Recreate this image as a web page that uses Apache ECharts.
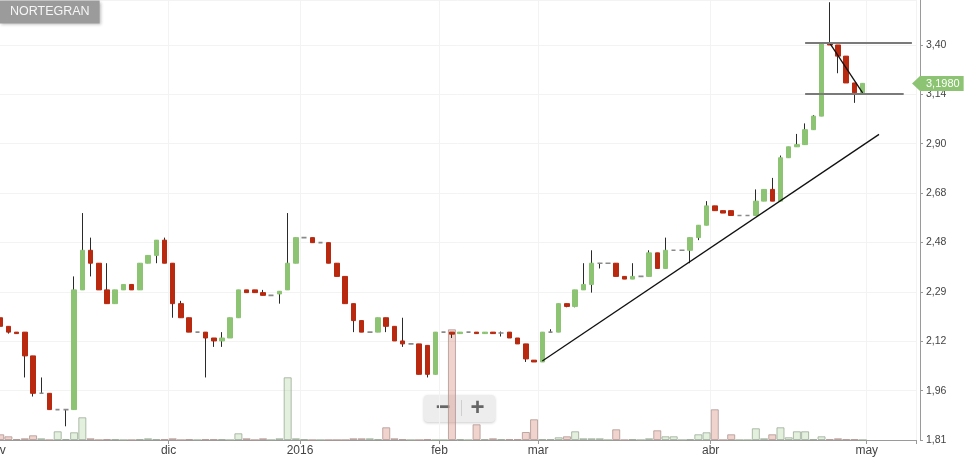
<!DOCTYPE html>
<html><head><meta charset="utf-8">
<script src="https://cdn.jsdelivr.net/npm/echarts@6/dist/echarts.min.js"></script>
<style>html,body{margin:0;padding:0;background:#fff}#c{width:966px;height:461px}</style>
</head><body><div id="c"></div>
<script>
// ---- data ----
const opens = [2.20,2.17,2.15,2.15,2.07,1.95,1.95,1.90,1.90,1.90,
 2.30,2.45,2.40,2.30,2.25,2.30,2.32,2.30,2.40,2.43,
 2.49,2.40,2.25,2.20,2.15,2.15,2.13,2.12,2.13,2.20,
 2.30,2.30,2.29,2.28,2.285,2.30,2.40,2.50,2.50,2.48,
 2.48,2.40,2.35,2.25,2.19,2.15,2.15,2.20,2.17,2.12,
 2.11,2.11,2.105,2.01,2.15,2.15,2.145,2.15,2.15,2.145,
 2.15,2.147,2.15,2.13,2.11,2.056,2.05,2.15,2.15,2.25,
 2.24,2.30,2.32,2.40,2.40,2.40,2.35,2.34,2.35,2.35,
 2.44,2.38,2.45,2.45,2.45,2.50,2.55,2.63,2.61,2.61,
 2.59,2.59,2.59,2.65,2.70,2.65,2.84,2.89,2.90,2.97,
 3.035,3.41,3.40,3.34,3.20,3.15];
const closes = [2.17,2.15,2.145,2.07,1.95,1.95,1.90,1.90,1.90,2.30,
 2.45,2.40,2.30,2.25,2.30,2.32,2.30,2.40,2.43,2.49,
 2.40,2.25,2.20,2.15,2.15,2.13,2.12,2.13,2.20,2.30,
 2.29,2.29,2.28,2.28,2.295,2.40,2.50,2.50,2.48,2.48,
 2.40,2.35,2.25,2.19,2.15,2.15,2.20,2.17,2.12,2.11,
 2.11,2.01,2.01,2.15,2.15,2.143,2.15,2.15,2.145,2.15,
 2.145,2.147,2.13,2.11,2.06,2.05,2.15,2.15,2.25,2.24,
 2.30,2.32,2.40,2.40,2.40,2.35,2.34,2.35,2.35,2.44,
 2.38,2.45,2.45,2.45,2.50,2.55,2.63,2.61,2.60,2.59,
 2.59,2.59,2.65,2.70,2.65,2.84,2.89,2.90,2.97,3.035,
 3.41,3.40,3.34,3.20,3.15,3.198];
const lows = [2.14,2.145,2.145,2.00,1.94,1.95,1.90,1.90,1.85,1.90,
 2.30,2.35,2.30,2.25,2.25,2.30,2.30,2.30,2.40,2.40,
 2.40,2.20,2.20,2.15,2.15,2.00,2.10,2.10,2.13,2.20,
 2.29,2.29,2.28,2.28,2.25,2.30,2.40,2.50,2.48,2.48,
 2.40,2.35,2.25,2.15,2.15,2.15,2.15,2.15,2.12,2.10,
 2.11,2.01,2.00,2.01,2.15,2.13,2.145,2.15,2.145,2.145,
 2.145,2.135,2.13,2.11,2.05,2.05,2.05,2.15,2.15,2.237,
 2.237,2.30,2.29,2.38,2.40,2.35,2.34,2.34,2.35,2.35,
 2.38,2.38,2.45,2.45,2.40,2.49,2.55,2.61,2.60,2.59,
 2.59,2.59,2.59,2.65,2.65,2.65,2.84,2.89,2.90,2.97,
 3.035,3.40,3.25,3.20,3.10,3.15];
const highs = [2.21,2.17,2.15,2.15,2.07,2.00,1.95,1.90,1.90,2.35,
 2.60,2.50,2.40,2.40,2.30,2.32,2.32,2.40,2.43,2.49,
 2.50,2.40,2.26,2.20,2.15,2.15,2.13,2.15,2.20,2.30,
 2.30,2.30,2.30,2.28,2.295,2.60,2.50,2.50,2.50,2.48,
 2.48,2.40,2.35,2.25,2.19,2.15,2.20,2.20,2.17,2.20,
 2.11,2.11,2.105,2.15,2.15,2.15,2.15,2.15,2.15,2.15,
 2.15,2.152,2.15,2.13,2.11,2.056,2.15,2.16,2.25,2.25,
 2.30,2.40,2.45,2.40,2.40,2.40,2.35,2.40,2.35,2.45,
 2.44,2.50,2.45,2.45,2.50,2.55,2.65,2.63,2.61,2.61,
 2.59,2.59,2.70,2.70,2.75,2.85,2.89,2.95,3.00,3.04,
 3.41,3.64,3.40,3.34,3.20,3.198];
const volumes = [570,370,100,170,470,170,0,870,100,770,
 2270,170,0,70,70,0,0,70,170,70,
 70,170,0,70,0,70,70,70,0,670,
 170,0,170,0,170,6270,170,70,0,0,
 0,0,0,170,170,170,70,1270,170,70,
 0,0,70,0,0,11070,70,0,1570,70,
 170,70,70,70,800,2070,70,70,270,370,
 870,170,170,170,0,1070,0,70,0,170,
 970,370,370,0,70,570,770,3070,0,570,
 0,0,1170,170,570,1270,270,870,870,70,
 370,70,170,70,70,0];
const monthLabels = ['nov','dic','2016','feb','mar','abr','may'];
const monthStarts = [0,21,37,54,66,87,106];
const yTickLabels = ['1,81','1,96','2,12','2,29','2,48','2,68','2,90','3,14','3,40'];
const totalSlots = 112;
const priceTop = 3.653;
const trendLines = [
  {from:[66, 2.053], to:[107, 2.948]},
  {from:[101, 3.41], to:[105, 3.15]}
];
const levelLines = [
  {from:98, to:111, price:3.41},
  {from:98, to:110, price:3.145}
];

// ---- log-price scale (ticks evenly spaced in log space) ----
const BASE = 1.81;
const STEP = Math.log(3.40 / BASE) / 8;
const t = p => Math.log(p / BASE) / STEP;

const GREEN = '#8cc474', RED = '#b8290f', DOJI = '#8a8a8a', WICK = '#2a2a2a';
const isMonth = i => monthStarts.indexOf(i) >= 0;

const cats = Array.from({length: totalSlots}, (_, i) => String(i));
const wickData = opens.map((o, i) => [t(o), t(closes[i]), t(lows[i]), t(highs[i])]);
const bodyData = opens.map((o, i) => {
  const c = closes[i];
  const v = [t(o), t(c), t(Math.min(o, c)), t(Math.max(o, c))];
  if (o === c) return {value: v, itemStyle: {borderColor: DOJI, borderColor0: DOJI, borderWidth: 1.6}};
  return v;
});
const volData = volumes.map((v, i) => ({
  value: v,
  itemStyle: closes[i] >= opens[i]
    ? {color: 'rgba(147,195,123,0.25)', borderColor: 'rgba(150,165,145,0.75)'}
    : {color: 'rgba(212,121,106,0.33)', borderColor: 'rgba(175,150,145,0.8)'}
}));
const lastClose = closes[closes.length - 1];

const markLines = [];
trendLines.forEach(l => markLines.push([
  {coord: [l.from[0], t(l.from[1])], lineStyle: {color: '#111', width: 1.3, type: 'solid'}},
  {coord: [l.to[0], t(l.to[1])]}
]));
levelLines.forEach(l => markLines.push([
  {coord: [l.from, t(l.price)], lineStyle: {color: '#7a7a7a', width: 2, type: 'solid'}},
  {coord: [l.to, t(l.price)]}
]));

const chart = echarts.init(document.getElementById('c'), null, {renderer: 'canvas'});
chart.setOption({
  animation: false,
  backgroundColor: '#ffffff',
  textStyle: {fontFamily: 'Liberation Sans, Arial, sans-serif'},
  title: {
    text: 'NORTEGRAN', left: 0, top: 1,
    backgroundColor: '#9b9b9b', padding: [5, 10, 5, 10],
    shadowColor: 'rgba(0,0,0,0.25)', shadowBlur: 3, shadowOffsetX: 1, shadowOffsetY: 1,
    textStyle: {color: '#f6f6f6', fontSize: 12.5, fontWeight: 'normal', lineHeight: 12,
      fontFamily: 'Liberation Sans, Arial, sans-serif'}
  },
  grid: {left: -3.9, right: 50, top: 0, bottom: 21, containLabel: false, outerBoundsMode: 'none'},
  xAxis: {
    type: 'category', data: cats, boundaryGap: true,
    axisLine: {lineStyle: {color: '#9a9a9a'}},
    axisTick: {show: true, interval: isMonth, length: 4, lineStyle: {color: '#9a9a9a'}},
    axisLabel: {
      interval: isMonth, margin: 5, fontSize: 12, color: '#444',
      padding: [0, 8.2, 0, 0],
      formatter: (v, i) => monthLabels[monthStarts.indexOf(i)] || ''
    },
    splitLine: {show: true, interval: isMonth, lineStyle: {color: '#f3f3f3'}}
  },
  yAxis: [{
    type: 'value', position: 'right', offset: 4,
    min: 0, max: t(priceTop), interval: 1,
    axisLine: {show: true, lineStyle: {color: '#9a9a9a'}},
    axisTick: {show: true, length: 3, lineStyle: {color: '#9a9a9a'}},
    axisLabel: {
      margin: 6, fontSize: 10.5, color: '#444', showMaxLabel: false,
      formatter: v => { const i = Math.round(v); return Math.abs(v - i) < 1e-6 ? (yTickLabels[i] || '') : ''; }
    },
    splitLine: {show: true, lineStyle: {color: '#f3f3f3'}}
  }, {
    type: 'value', min: 0, max: 44000, show: false, splitLine: {show: false}
  }],
  graphic: [{
    type: 'group', left: 424, top: 395, z: 0,
    children: [
      {type: 'rect', shape: {x: 0, y: 0, width: 71, height: 27, r: 4},
       style: {fill: '#ededed', shadowBlur: 3, shadowOffsetY: 1, shadowColor: 'rgba(0,0,0,0.2)'}},
      {type: 'line', shape: {x1: 37.5, y1: 5, x2: 37.5, y2: 21}, style: {stroke: '#cfcfcf', lineWidth: 1}},
      {type: 'text', x: 19, y: 13.5, style: {text: '−', fill: '#666', font: 'bold 25px Liberation Sans, Arial', align: 'center', verticalAlign: 'middle'}},
      {type: 'text', x: 53.5, y: 13.5, style: {text: '+', fill: '#666', font: 'bold 24px Liberation Sans, Arial', align: 'center', verticalAlign: 'middle'}}
    ]
  }],
  series: [{
    type: 'bar', name: 'volumen', yAxisIndex: 1, data: volData,
    barWidth: 8, itemStyle: {borderWidth: 1}, z: 1, silent: true
  }, {
    type: 'candlestick', name: 'mechas', data: wickData, barWidth: 1, z: 3, silent: true,
    itemStyle: {color: WICK, color0: WICK, borderColor: WICK, borderColor0: WICK, borderColorDoji: WICK, borderWidth: 1},
    markLine: {
      silent: true, animation: false,
      symbol: ['none', 'triangle'], symbolSize: [15, 8], symbolRotate: 90,
      lineStyle: {color: GREEN, width: 0, opacity: 1, type: 'solid'},
      data: [{yAxis: t(lastClose)}],
      label: {
        show: true, position: 'end', distance: 4,
        formatter: () => lastClose.toFixed(4).replace('.', ','),
        backgroundColor: GREEN, color: '#fff', fontSize: 11, lineHeight: 13,
        padding: [1, 4, 1, 6]
      }
    }
  }, {
    type: 'candlestick', name: 'NORTEGRAN', data: bodyData, barWidth: 5, z: 4, silent: true,
    itemStyle: {color: GREEN, color0: RED, borderColor: GREEN, borderColor0: RED, borderColorDoji: DOJI, borderWidth: 1},
    markLine: {
      silent: true, symbol: 'none', animation: false,
      label: {show: false},
      lineStyle: {type: 'solid'},
      data: markLines
    }
  }]
});
</script></body></html>
